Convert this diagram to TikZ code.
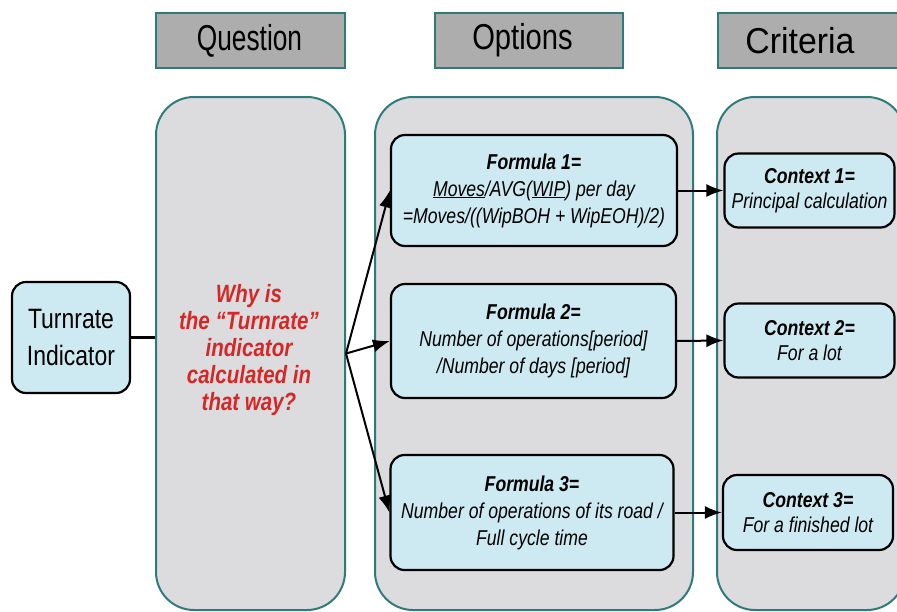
\documentclass[tikz,border=0pt]{standalone}
\usepackage{fontspec}
\setmainfont{Liberation Sans}[FakeStretch=0.82]
\newfontfamily\hdrfont{Liberation Sans}
\usetikzlibrary{arrows.meta}
\definecolor{tealb}{RGB}{47,123,123}
\definecolor{hdrgray}{RGB}{173,173,173}
\definecolor{panelgray}{RGB}{220,220,222}
\definecolor{boxblue}{RGB}{205,233,241}
\definecolor{qred}{RGB}{212,40,40}
\tikzset{
  hdr/.style={draw=tealb, fill=hdrgray, line width=2pt, minimum height=55pt, inner sep=0pt},
  hdrtext/.style={font=\hdrfont\fontsize{36}{40}\selectfont, inner sep=0pt},
  panel/.style={draw=tealb, fill=panelgray, line width=2pt, rounded corners=38pt, inner sep=0pt},
  box/.style={draw=black, fill=boxblue, line width=2.2pt, rounded corners=14pt, align=center, inner sep=0pt},
  ftext/.style={font=\fontsize{21.5}{27}\selectfont\itshape},
  ctext/.style={font=\fontsize{21.5}{25}\selectfont\itshape},
  arr/.style={line width=2pt, -{Latex[length=17pt,width=13pt]}},
}
\begin{document}
\begin{tikzpicture}[x=1pt,y=-1pt]
\useasboundingbox (0,0) rectangle (897,611);
\clip (0,0) rectangle (897,611);
% headers
\node[hdr, minimum width=189pt] (hQ) at (250.5,40.5) {};
\node[hdrtext] (tQ) at (249.5,40.5) {\scalebox{0.73}[1]{Question}};
\node[hdr, minimum width=188pt] (hO) at (529,40.5) {};
\node[hdrtext] (tO) at (522.5,40.5) {\scalebox{0.81}[1]{Options}};
\node[hdr, minimum width=188pt] (hC) at (812,40.5) {};
\node[hdrtext] (tC) at (800,40.5) {\scalebox{0.94}[1]{Criteria}};
% panels
\node[panel, minimum width=189pt, minimum height=513pt] (pQ) at (250.5,353.5) {};
\node[panel, minimum width=318pt, minimum height=513pt] (pO) at (534,353.5) {};
\node[panel, minimum width=188pt, minimum height=513pt] (pC) at (811,353.5) {};
% turnrate
\node[box, minimum width=118pt, minimum height=111pt, font=\fontsize{28}{37}\selectfont] (turn) at (71,337.5) {Turnrate\\Indicator};
% question text
\node[align=center, text=qred, font=\fontsize{25}{27}\selectfont\bfseries\itshape] (qtext) at (249,350) {Why is\\the “Turnrate”\\indicator\\calculated in\\that way?};
% formulas
\node[box, ftext, minimum width=286pt, minimum height=111pt] (f1) at (534,190.5)
  {\textbf{Formula 1=}\\\underline{Moves}/AVG(\underline{WIP}) per day\\=Moves/((WipBOH + WipEOH)/2)};
\node[box, ftext, minimum width=285pt, minimum height=114pt] (f2) at (533.5,341)
  {\textbf{Formula 2=}\\Number of operations[period]\\/Number of days [period]};
\node[box, ftext, minimum width=283pt, minimum height=115pt] (f3) at (532,512.5)
  {\textbf{Formula 3=}\\Number of operations of its road /\\Full cycle time};
% contexts
\node[box, ctext, minimum width=170pt, minimum height=74pt] (c1) at (809.5,190.5)
  {\textbf{Context 1=}\\Principal calculation};
\node[box, ctext, minimum width=170pt, minimum height=74pt] (c2) at (809.5,340.5)
  {\textbf{Context 2=}\\For a lot};
\node[box, ctext, minimum width=170pt, minimum height=75pt] (c3) at (808,512.5)
  {\textbf{Context 3=}\\For a finished lot};
% connectors
\draw[line width=2.2pt] (turn.east) -- (turn.east -| pQ.west);
\draw[arr] (pQ.east) -- (f1.west);
\draw[arr] (pQ.east) -- (f2.west);
\draw[arr] (pQ.east) -- (f3.west);
\draw[arr] (f1.east) -- (c1.west);
\draw[arr] (f2.east) -- (c2.west);
\draw[arr] (f3.east) -- (c3.west);
\end{tikzpicture}
\end{document}
